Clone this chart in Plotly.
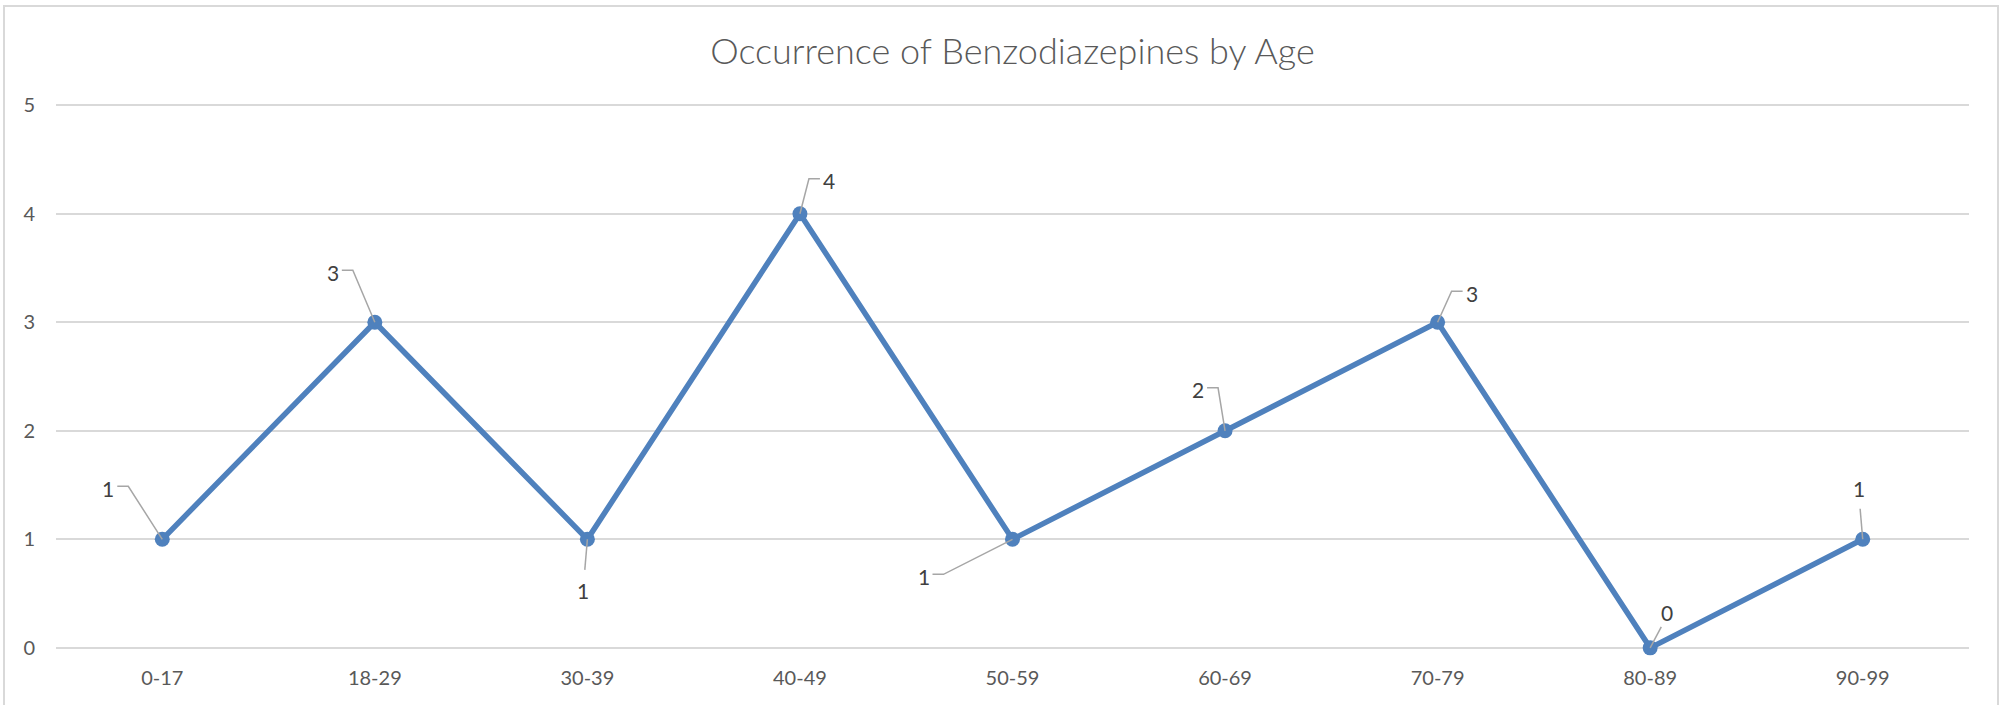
import plotly.graph_objects as go

# ---- data ----
age_groups = ["0-17", "18-29", "30-39", "40-49", "50-59", "60-69", "70-79", "80-89", "90-99"]
occurrences = [1, 3, 1, 4, 1, 2, 3, 0, 1]
y_ticks = [0, 1, 2, 3, 4, 5]
title_text = "Occurrence of Benzodiazepines by Age"

# label offsets in pixels (right positive, down positive) -- styling
label_dx = [-54, -42, -4, 29, -89, -27, 34, 17, -4]
label_dy = [-51, -50, 51, -33, 37, -41, -29, -35, -51]

W, H = 2015, 705
ML, MR, MT, MB = 56, 46, 103, 55
PAD = 0.02  # small range padding so edge gridlines are drawn

LINE = "#4f81bd"
GRID = "#d9d9d9"
TXT = "#595959"
LBL = "#404040"
LEAD = "#a6a6a6"
FONT = "Lato"

xs = list(range(len(age_groups)))

fig = go.Figure()
fig.add_trace(go.Scatter(
    x=xs, y=occurrences, mode="lines+markers",
    line=dict(color=LINE, width=5.5),
    marker=dict(color=LINE, size=15),
    cliponaxis=False,
    hoverinfo="skip", showlegend=False,
))

shapes = []
annotations = []
for i, (xv, yv) in enumerate(zip(xs, occurrences)):
    dx, dy = label_dx[i], label_dy[i]
    annotations.append(dict(
        x=xv, y=yv, xref="x", yref="y", text=str(yv), showarrow=False,
        xshift=dx, yshift=-dy, font=dict(family=FONT, size=21, color=LBL),
    ))
    # leader line (pixel offsets, y up positive)
    if abs(dx) > 20:
        s = 1 if dx > 0 else -1
        hx0 = dx - s * 9
        hx1 = dx - s * 20
        hy = -dy + 2
        path = f"M0,0 L{hx1},{hy} L{hx0},{hy}"
    else:
        hy = -dy * 0.6
        path = f"M0,0 L{dx * 0.65:.1f},{hy:.1f}"
    shapes.append(dict(
        type="path", xref="x", yref="y", xsizemode="pixel", ysizemode="pixel",
        xanchor=xv, yanchor=yv, path=path, line=dict(color=LEAD, width=1.5),
        layer="above",
    ))

# outer chart border
pw = W - ML - MR
ph = H - MT - MB
shapes.append(dict(
    type="rect", xref="paper", yref="paper",
    x0=(4 - ML) / pw, x1=(1998 - ML) / pw,
    y0=-(MB + 20) / ph, y1=(H - 6 - MB) / ph,
    line=dict(color=GRID, width=2), fillcolor="rgba(0,0,0,0)", layer="below",
))

fig.update_layout(
    width=W, height=H,
    margin=dict(l=ML, r=MR, t=MT, b=MB),
    paper_bgcolor="white", plot_bgcolor="white",
    title=dict(text=title_text, x=0.5, xref="paper", xanchor="center",
               y=1 - 51 / H, yref="container", yanchor="middle",
               font=dict(family=FONT, size=36, color=TXT, weight=300)),
    shapes=shapes, annotations=annotations,
)
fig.update_xaxes(
    range=[-0.5, len(age_groups) - 0.5], tickmode="array", tickvals=xs, ticktext=age_groups,
    showgrid=False, zeroline=False, showline=False, ticks="",
    tickfont=dict(family=FONT, size=20, color=TXT), ticklabelstandoff=14, fixedrange=True,
)
fig.update_yaxes(
    range=[y_ticks[0] - PAD, y_ticks[-1] + PAD], tickmode="array", tickvals=y_ticks,
    ticktext=[str(t) for t in y_ticks],
    showgrid=True, gridcolor=GRID, gridwidth=2, zeroline=True, zerolinecolor=GRID, zerolinewidth=2,
    showline=False, ticks="",
    tickfont=dict(family=FONT, size=20, color=TXT), ticklabelstandoff=20, fixedrange=True,
)

fig.write_html(
    "out.html",
    config={"displayModeBar": False, "staticPlot": True},
    post_script="document.body.style.margin='0';document.body.style.overflow='hidden';",
)
